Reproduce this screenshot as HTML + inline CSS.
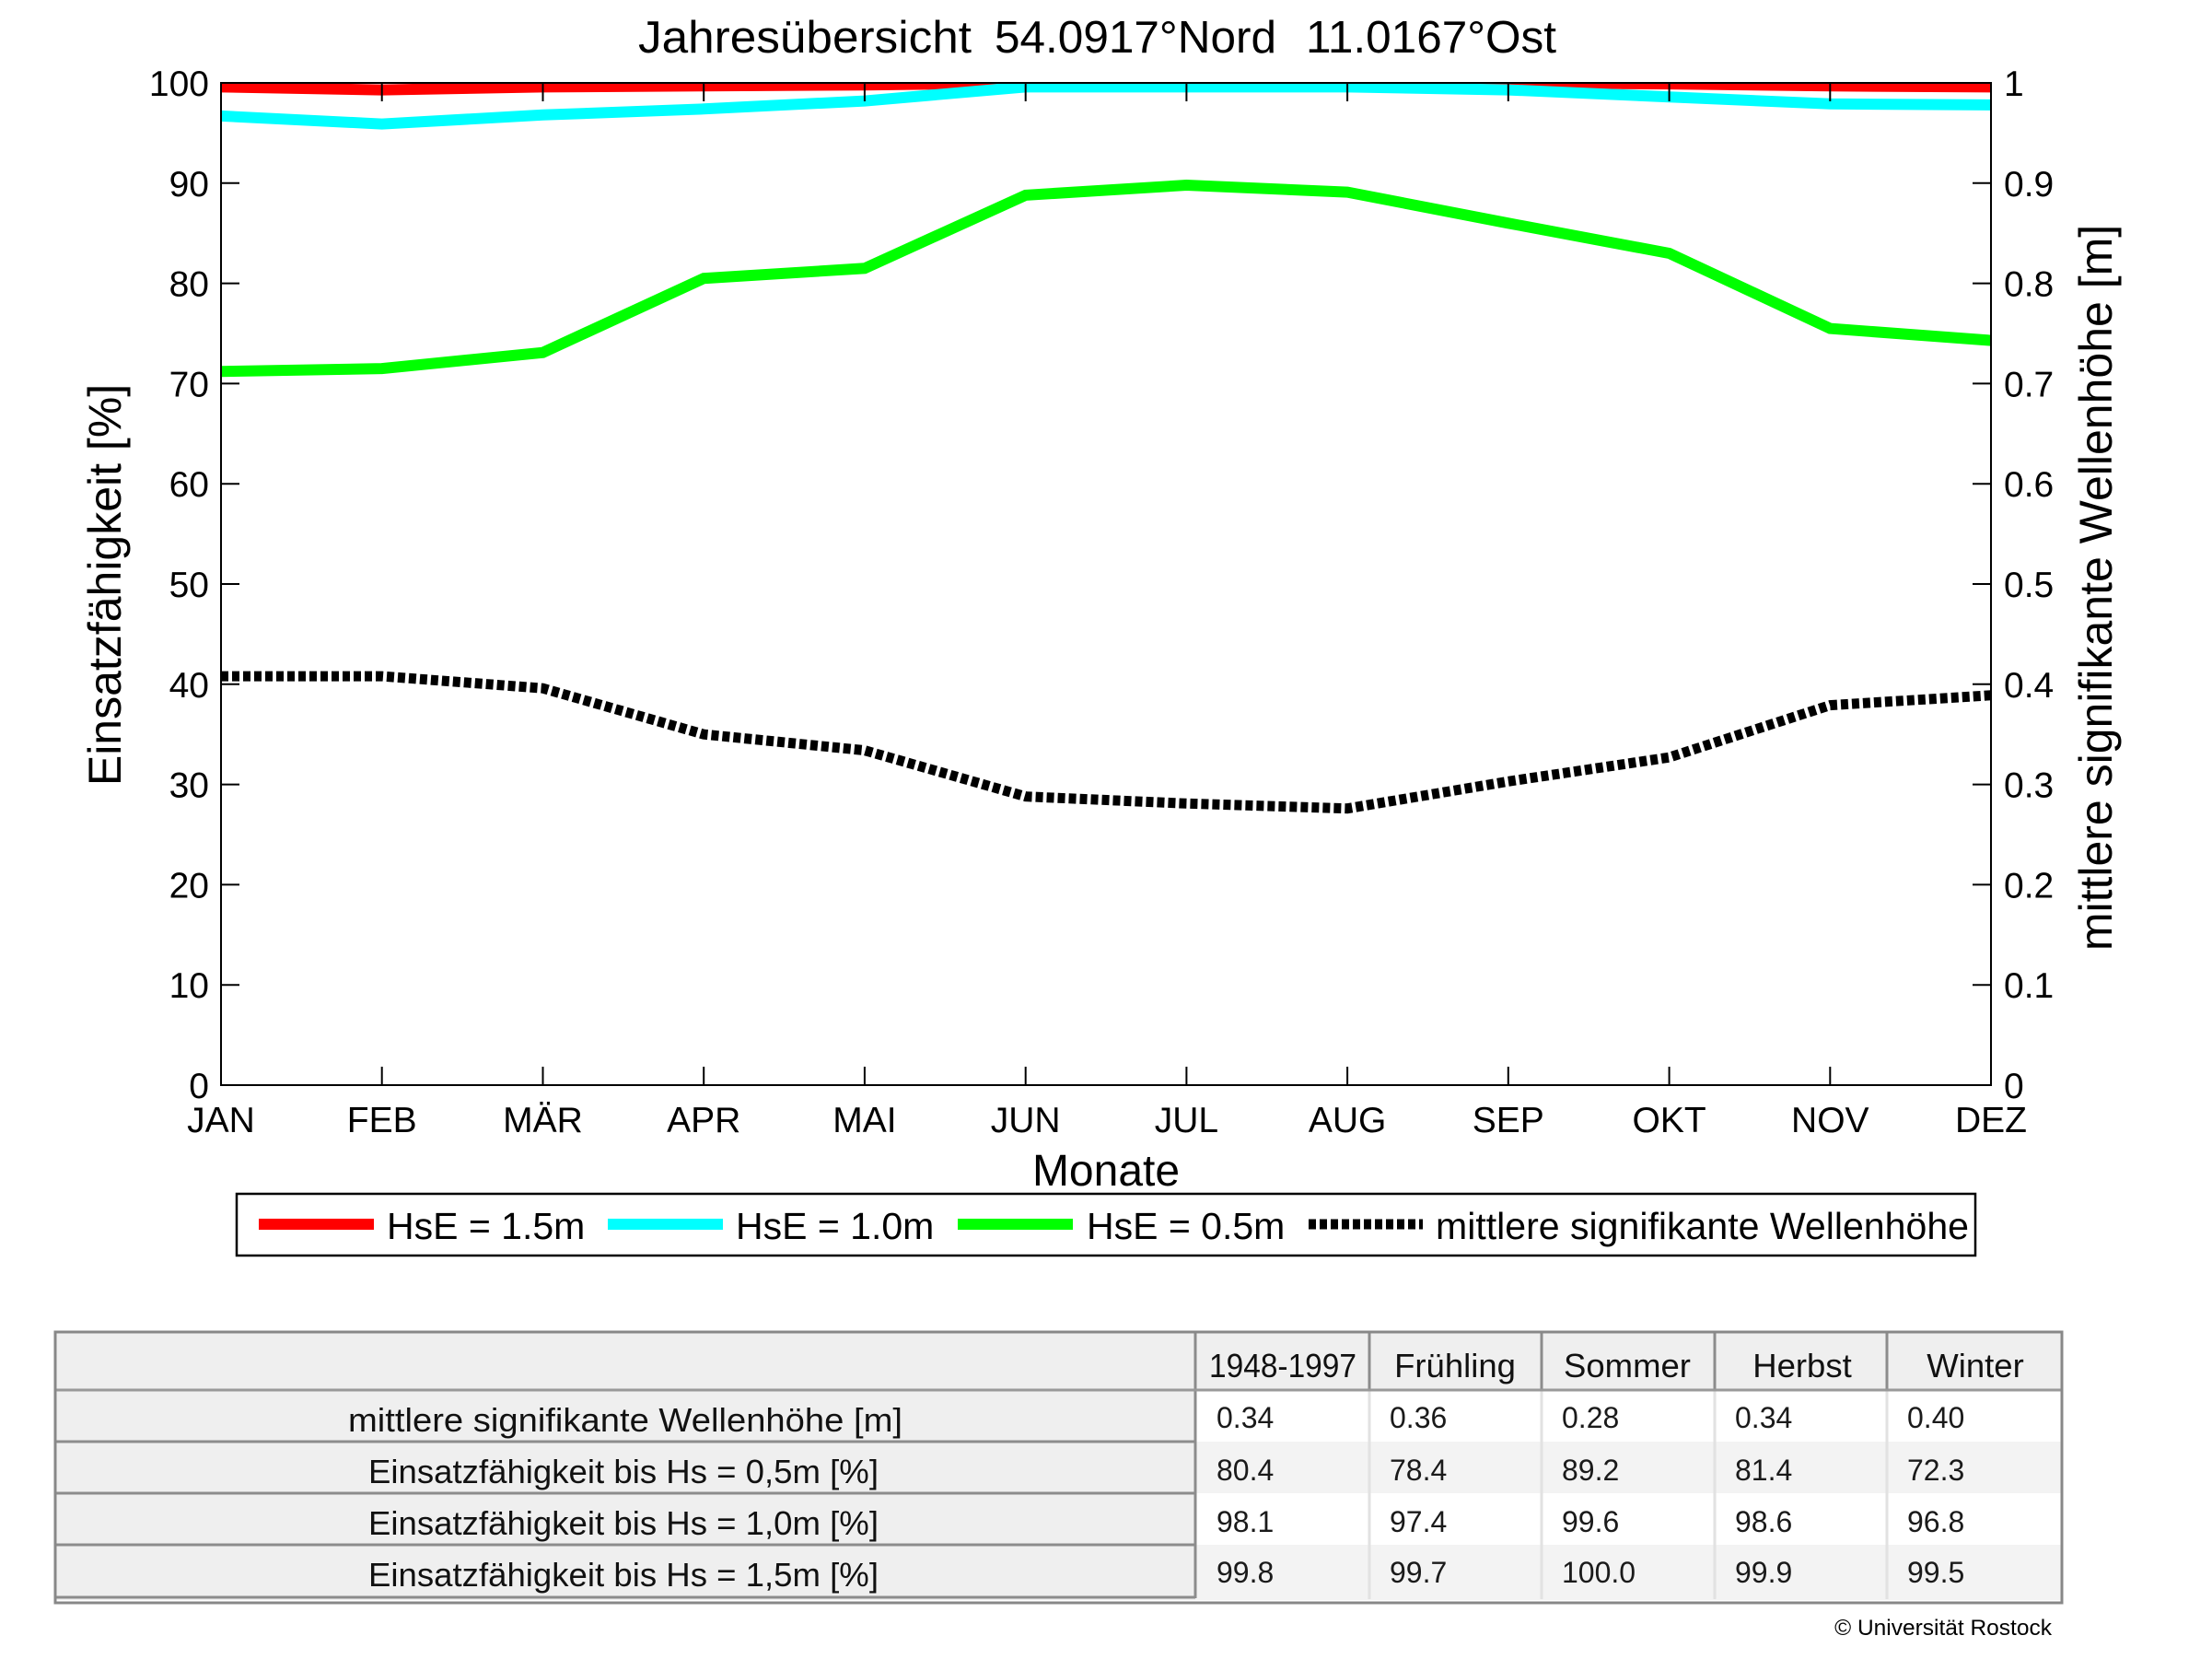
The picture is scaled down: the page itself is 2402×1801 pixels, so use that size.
<!DOCTYPE html>
<html>
<head>
<meta charset="utf-8">
<style>
html,body{margin:0;padding:0;background:#fff;}
svg{display:block;}
text{font-family:"Liberation Sans","DejaVu Sans",sans-serif;}
</style>
</head>
<body>
<svg width="2402" height="1801" viewBox="0 0 2402 1801" xmlns="http://www.w3.org/2000/svg">
<rect x="0" y="0" width="2402" height="1801" fill="#fff"/>
<defs>
<clipPath id="pc"><rect x="240" y="90" width="1922" height="1088"/></clipPath>
</defs>

<!-- Title -->
<text x="693" y="57" font-size="49.5" fill="#000" textLength="362" lengthAdjust="spacingAndGlyphs">Jahresübersicht</text>
<text x="1080" y="57" font-size="49.5" fill="#000">54.0917°Nord</text>
<text x="1418" y="57" font-size="49.5" fill="#000">11.0167°Ost</text>

<!-- Series -->
<g clip-path="url(#pc)" fill="none" stroke-width="12" stroke-linejoin="miter">
<polyline stroke="#ff0000" points="240,94.4 414.7,97.6 589.5,94.4 764.2,93.3 938.9,92.2 1113.7,90 1288.4,90 1463.1,90 1637.8,90 1812.6,91.1 1987.3,93.3 2162,94.4"/>
<polyline stroke="#00ffff" points="240,125.9 414.7,134.6 589.5,124.8 764.2,118.3 938.9,109.6 1113.7,94.4 1288.4,94.4 1463.1,94.4 1637.8,97.6 1812.6,105.2 1987.3,112.8 2162,113.9"/>
<polyline stroke="#00ff00" points="240,403.3 414.7,400.1 589.5,382.7 764.2,302.2 938.9,291.3 1113.7,211.9 1288.4,201 1463.1,208.6 1637.8,242.3 1812.6,275 1987.3,356.6 2162,369.6"/>
<polyline stroke="#000000" stroke-width="11" stroke-dasharray="8 4" points="240,734.1 414.7,734.1 589.5,747.2 764.2,797.2 938.9,814.6 1113.7,864.7 1288.4,872.3 1463.1,877.7 1637.8,848.3 1812.6,822.2 1987.3,765.6 2162,754.8"/>
</g>

<!-- Axes box -->
<rect x="240" y="90" width="1922" height="1088" fill="none" stroke="#000" stroke-width="2"/>

<!-- Ticks -->
<g stroke="#000" stroke-width="2">
<!-- left/right ticks -->
<line x1="240" y1="1069.2" x2="260" y2="1069.2"/><line x1="2162" y1="1069.2" x2="2142" y2="1069.2"/>
<line x1="240" y1="960.4" x2="260" y2="960.4"/><line x1="2162" y1="960.4" x2="2142" y2="960.4"/>
<line x1="240" y1="851.6" x2="260" y2="851.6"/><line x1="2162" y1="851.6" x2="2142" y2="851.6"/>
<line x1="240" y1="742.8" x2="260" y2="742.8"/><line x1="2162" y1="742.8" x2="2142" y2="742.8"/>
<line x1="240" y1="634" x2="260" y2="634"/><line x1="2162" y1="634" x2="2142" y2="634"/>
<line x1="240" y1="525.2" x2="260" y2="525.2"/><line x1="2162" y1="525.2" x2="2142" y2="525.2"/>
<line x1="240" y1="416.4" x2="260" y2="416.4"/><line x1="2162" y1="416.4" x2="2142" y2="416.4"/>
<line x1="240" y1="307.6" x2="260" y2="307.6"/><line x1="2162" y1="307.6" x2="2142" y2="307.6"/>
<line x1="240" y1="198.8" x2="260" y2="198.8"/><line x1="2162" y1="198.8" x2="2142" y2="198.8"/>
<!-- bottom/top ticks -->
<line x1="414.7" y1="1178" x2="414.7" y2="1158"/><line x1="414.7" y1="90" x2="414.7" y2="110"/>
<line x1="589.5" y1="1178" x2="589.5" y2="1158"/><line x1="589.5" y1="90" x2="589.5" y2="110"/>
<line x1="764.2" y1="1178" x2="764.2" y2="1158"/><line x1="764.2" y1="90" x2="764.2" y2="110"/>
<line x1="938.9" y1="1178" x2="938.9" y2="1158"/><line x1="938.9" y1="90" x2="938.9" y2="110"/>
<line x1="1113.7" y1="1178" x2="1113.7" y2="1158"/><line x1="1113.7" y1="90" x2="1113.7" y2="110"/>
<line x1="1288.4" y1="1178" x2="1288.4" y2="1158"/><line x1="1288.4" y1="90" x2="1288.4" y2="110"/>
<line x1="1463.1" y1="1178" x2="1463.1" y2="1158"/><line x1="1463.1" y1="90" x2="1463.1" y2="110"/>
<line x1="1637.8" y1="1178" x2="1637.8" y2="1158"/><line x1="1637.8" y1="90" x2="1637.8" y2="110"/>
<line x1="1812.6" y1="1178" x2="1812.6" y2="1158"/><line x1="1812.6" y1="90" x2="1812.6" y2="110"/>
<line x1="1987.3" y1="1178" x2="1987.3" y2="1158"/><line x1="1987.3" y1="90" x2="1987.3" y2="110"/>
</g>

<!-- Left tick labels -->
<g font-size="39" fill="#000" text-anchor="end">
<text x="227" y="1192">0</text>
<text x="227" y="1083.2">10</text>
<text x="227" y="974.4">20</text>
<text x="227" y="865.6">30</text>
<text x="227" y="756.8">40</text>
<text x="227" y="648">50</text>
<text x="227" y="539.2">60</text>
<text x="227" y="430.4">70</text>
<text x="227" y="321.6">80</text>
<text x="227" y="212.8">90</text>
<text x="227" y="104">100</text>
</g>
<!-- Right tick labels -->
<g font-size="39" fill="#000" text-anchor="start">
<text x="2176" y="1192">0</text>
<text x="2176" y="1083.2">0.1</text>
<text x="2176" y="974.4">0.2</text>
<text x="2176" y="865.6">0.3</text>
<text x="2176" y="756.8">0.4</text>
<text x="2176" y="648">0.5</text>
<text x="2176" y="539.2">0.6</text>
<text x="2176" y="430.4">0.7</text>
<text x="2176" y="321.6">0.8</text>
<text x="2176" y="212.8">0.9</text>
<text x="2176" y="104">1</text>
</g>
<!-- Month labels -->
<g font-size="39" fill="#000" text-anchor="middle">
<text x="240" y="1229">JAN</text>
<text x="414.7" y="1229">FEB</text>
<text x="589.5" y="1229">MÄR</text>
<text x="764.2" y="1229">APR</text>
<text x="938.9" y="1229">MAI</text>
<text x="1113.7" y="1229">JUN</text>
<text x="1288.4" y="1229">JUL</text>
<text x="1463.1" y="1229">AUG</text>
<text x="1637.8" y="1229">SEP</text>
<text x="1812.6" y="1229">OKT</text>
<text x="1987.3" y="1229">NOV</text>
<text x="2162" y="1229">DEZ</text>
</g>

<!-- Axis labels -->
<text x="1201" y="1287" font-size="48" text-anchor="middle" fill="#000">Monate</text>
<text transform="translate(131,635) rotate(-90)" font-size="50" text-anchor="middle" fill="#000">Einsatzfähigkeit [%]</text>
<text transform="translate(2293,638) rotate(-90)" font-size="50" text-anchor="middle" fill="#000">mittlere signifikante Wellenhöhe [m]</text>

<!-- Legend -->
<rect x="257" y="1296" width="1888" height="67" fill="#fff" stroke="#000" stroke-width="2.5"/>
<line x1="281" y1="1329" x2="406" y2="1329" stroke="#ff0000" stroke-width="12"/>
<text x="420" y="1345" font-size="41" fill="#000">HsE = 1.5m</text>
<line x1="660" y1="1329" x2="785" y2="1329" stroke="#00ffff" stroke-width="12"/>
<text x="799" y="1345" font-size="41" fill="#000">HsE = 1.0m</text>
<line x1="1040" y1="1329" x2="1165" y2="1329" stroke="#00ff00" stroke-width="12"/>
<text x="1180" y="1345" font-size="41" fill="#000">HsE = 0.5m</text>
<line x1="1421" y1="1329" x2="1545" y2="1329" stroke="#000" stroke-width="11" stroke-dasharray="8 4"/>
<text x="1559" y="1345" font-size="41" fill="#000" textLength="579" lengthAdjust="spacingAndGlyphs">mittlere signifikante Wellenhöhe</text>

<!-- Table -->
<rect x="60" y="1446" width="2179" height="63" fill="#efefef"/>
<rect x="60" y="1509" width="1238" height="228" fill="#efefef"/>
<rect x="1298" y="1509" width="941" height="56" fill="#ffffff"/>
<rect x="1298" y="1565" width="941" height="56" fill="#f3f3f3"/>
<rect x="1298" y="1621" width="941" height="56" fill="#ffffff"/>
<rect x="1298" y="1677" width="941" height="60" fill="#f3f3f3"/>
<g stroke="#e2e2e2" stroke-width="3">
<line x1="1487" y1="1509" x2="1487" y2="1736"/>
<line x1="1674" y1="1509" x2="1674" y2="1736"/>
<line x1="1862" y1="1509" x2="1862" y2="1736"/>
<line x1="2049" y1="1509" x2="2049" y2="1736"/>
</g>
<g stroke="#8c8c8c" stroke-width="3">
<line x1="1487" y1="1446" x2="1487" y2="1509"/>
<line x1="1674" y1="1446" x2="1674" y2="1509"/>
<line x1="1862" y1="1446" x2="1862" y2="1509"/>
<line x1="2049" y1="1446" x2="2049" y2="1509"/>
<line x1="60" y1="1565" x2="1298" y2="1565"/>
<line x1="60" y1="1621" x2="1298" y2="1621"/>
<line x1="60" y1="1677" x2="1298" y2="1677"/>
<line x1="60" y1="1734" x2="1298" y2="1734"/>
<line x1="1298" y1="1446" x2="1298" y2="1735"/>
</g>
<line x1="60" y1="1509" x2="2239" y2="1509" stroke="#999" stroke-width="3"/>
<rect x="60" y="1446" width="2179" height="294" fill="none" stroke="#888" stroke-width="3"/>

<!-- Table header -->
<g font-size="36.5" fill="#111" text-anchor="middle">
<text x="1393" y="1495" textLength="160" lengthAdjust="spacingAndGlyphs">1948-1997</text>
<text x="1580" y="1495">Frühling</text>
<text x="1767" y="1495">Sommer</text>
<text x="1957" y="1495">Herbst</text>
<text x="2145" y="1495">Winter</text>
</g>
<!-- Row headers -->
<g font-size="36.5" fill="#111" text-anchor="middle">
<text x="679" y="1554" textLength="602" lengthAdjust="spacingAndGlyphs">mittlere signifikante Wellenhöhe [m]</text>
<text x="677" y="1610" textLength="554" lengthAdjust="spacingAndGlyphs">Einsatzfähigkeit bis Hs = 0,5m [%]</text>
<text x="677" y="1666" textLength="554" lengthAdjust="spacingAndGlyphs">Einsatzfähigkeit bis Hs = 1,0m [%]</text>
<text x="677" y="1722" textLength="554" lengthAdjust="spacingAndGlyphs">Einsatzfähigkeit bis Hs = 1,5m [%]</text>
</g>
<!-- Data -->
<g font-size="32" fill="#1a1a1a">
<text x="1321" y="1550">0.34</text><text x="1509" y="1550">0.36</text><text x="1696" y="1550">0.28</text><text x="1884" y="1550">0.34</text><text x="2071" y="1550">0.40</text>
<text x="1321" y="1607">80.4</text><text x="1509" y="1607">78.4</text><text x="1696" y="1607">89.2</text><text x="1884" y="1607">81.4</text><text x="2071" y="1607">72.3</text>
<text x="1321" y="1663">98.1</text><text x="1509" y="1663">97.4</text><text x="1696" y="1663">99.6</text><text x="1884" y="1663">98.6</text><text x="2071" y="1663">96.8</text>
<text x="1321" y="1718">99.8</text><text x="1509" y="1718">99.7</text><text x="1696" y="1718">100.0</text><text x="1884" y="1718">99.9</text><text x="2071" y="1718">99.5</text>
</g>

<!-- Copyright -->
<text x="2228" y="1775" font-size="24.5" text-anchor="end" fill="#000">© Universität Rostock</text>
</svg>
</body>
</html>
